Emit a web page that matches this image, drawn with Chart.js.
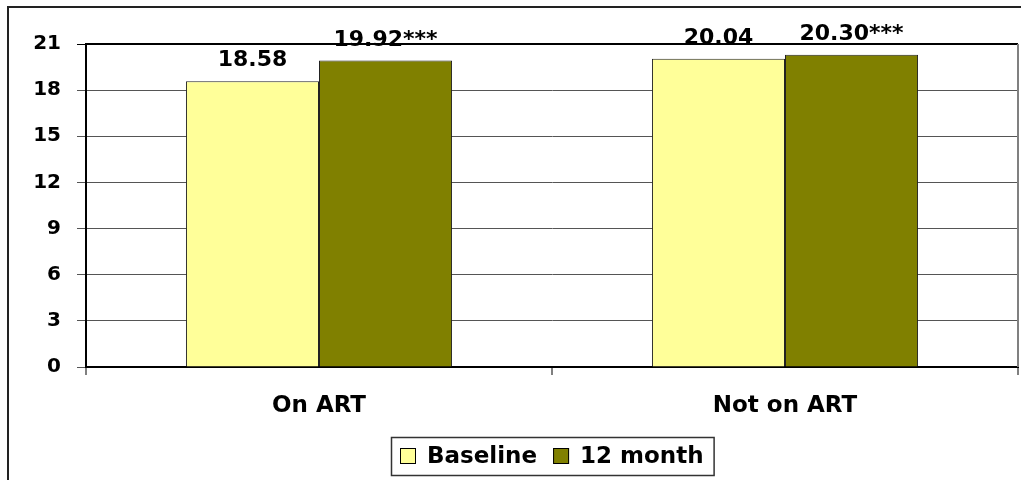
<!DOCTYPE html>
<html>
<head>
<meta charset="utf-8">
<script src="https://cdn.jsdelivr.net/npm/chart.js@4"></script>
<style>
html,body{margin:0;padding:0;background:#fff;}
#wrap{width:1021px;height:480px;}
</style>
</head>
<body>
<div id="wrap"><canvas id="c" width="1021" height="480"></canvas></div>
<script>
const categories = ["On ART", "Not on ART"];
const seriesNames = ["Baseline", "12 month"];
const baselineValues = [18.58, 20.04];
const monthValues = [19.92, 20.30];
const valueLabels = [["18.58", "20.04"], ["19.92***", "20.30***"]];
const yTicks = [0, 3, 6, 9, 12, 15, 18, 21];

const FONT = "'DejaVu Sans', 'Liberation Sans', Arial, sans-serif";
const colors = ["#FFFF99", "#808000"];

const framePlugin = {
  id: 'framePlugin',
  afterDatasetsDraw(chart) {
    const ctx = chart.ctx;
    ctx.save();
    ctx.font = "bold 22px " + FONT;
    ctx.fillStyle = "#000";
    ctx.textAlign = "center";
    ctx.textBaseline = "alphabetic";
    chart.data.datasets.forEach((ds, di) => {
      const meta = chart.getDatasetMeta(di);
      meta.data.forEach((bar, i) => {
        ctx.fillText(valueLabels[di][i], bar.x, bar.y - 15);
      });
    });
    ctx.restore();
  },
  afterDraw(chart) {
    const ctx = chart.ctx;
    const a = chart.chartArea;
    ctx.save();
    ctx.strokeStyle = "#000";
    ctx.lineWidth = 2;
    ctx.beginPath();
    ctx.moveTo(a.left, a.top);
    ctx.lineTo(a.right, a.top);
    ctx.stroke();
    ctx.strokeStyle = "#808080";
    ctx.beginPath();
    ctx.moveTo(a.right, a.top);
    ctx.lineTo(a.right, a.bottom);
    ctx.stroke();
    ctx.strokeStyle = "#222";
    ctx.lineWidth = 2;
    ctx.strokeRect(8, 7, 1200, 1000);

    ctx.font = "bold 23px " + FONT;
    ctx.textBaseline = "middle";
    ctx.textAlign = "left";
    const box = 16, gapText = 11, gapItem = 16, padL = 9, padR = 10;
    const widths = seriesNames.map(n => ctx.measureText(n).width);
    let total = padL + padR;
    widths.forEach((w, i) => { total += box + gapText + w + (i < widths.length - 1 ? gapItem : 0); });
    const cx = (a.left + a.right) / 2;
    const fx = Math.round(cx - total / 2);
    const fy = 437, fh = 38;
    ctx.strokeStyle = "#333";
    ctx.lineWidth = 1.5;
    ctx.strokeRect(fx + 0.5, fy + 0.5, total, fh);
    let x = fx + padL;
    const cy = fy + fh / 2;
    seriesNames.forEach((n, i) => {
      ctx.fillStyle = colors[i];
      ctx.fillRect(x, cy - box / 2, box, box);
      ctx.strokeStyle = "#000";
      ctx.lineWidth = 1;
      ctx.strokeRect(x + 0.5, cy - box / 2 + 0.5, box - 1, box - 1);
      x += box + gapText;
      ctx.fillStyle = "#000";
      ctx.fillText(n, x, cy + 1);
      x += widths[i] + gapItem;
    });
    ctx.restore();
  }
};

new Chart(document.getElementById('c'), {
  type: 'bar',
  data: {
    labels: categories,
    datasets: [
      { label: seriesNames[0], data: baselineValues, backgroundColor: colors[0], borderColor: "#222", borderWidth: 1, categoryPercentage: 0.571, barPercentage: 1.0 },
      { label: seriesNames[1], data: monthValues, backgroundColor: colors[1], borderColor: "#222", borderWidth: 1, categoryPercentage: 0.571, barPercentage: 1.0 }
    ]
  },
  options: {
    responsive: false,
    animation: false,
    devicePixelRatio: 1,
    layout: { padding: { left: 0, right: 3, top: 44, bottom: 0 } },
    plugins: { legend: { display: false }, tooltip: { enabled: false } },
    scales: {
      x: {
        afterFit(scale) { scale.height = 113; },
        grid: { display: true, drawOnChartArea: false, drawTicks: true, tickLength: 8, color: "#808080", lineWidth: 2, offset: true },
        border: { display: true, color: "#000", width: 2 },
        ticks: { color: "#000", font: { family: FONT, size: 23, weight: "bold" }, padding: 17 }
      },
      y: {
        min: 0, max: 21,
        afterFit(scale) { scale.width = 86; },
        afterBuildTicks(scale) { scale.ticks = yTicks.map(v => ({ value: v })); },
        grid: { color: (c) => (c.tick && c.tick.value === 21 ? "#000" : "#555"), lineWidth: 1, tickLength: 9, drawTicks: true },
        border: { display: true, color: "#000", width: 2 },
        ticks: { color: "#000", font: { family: FONT, size: 20, weight: "bold" }, padding: 16 }
      }
    }
  },
  plugins: [framePlugin]
});
</script>
</body>
</html>
